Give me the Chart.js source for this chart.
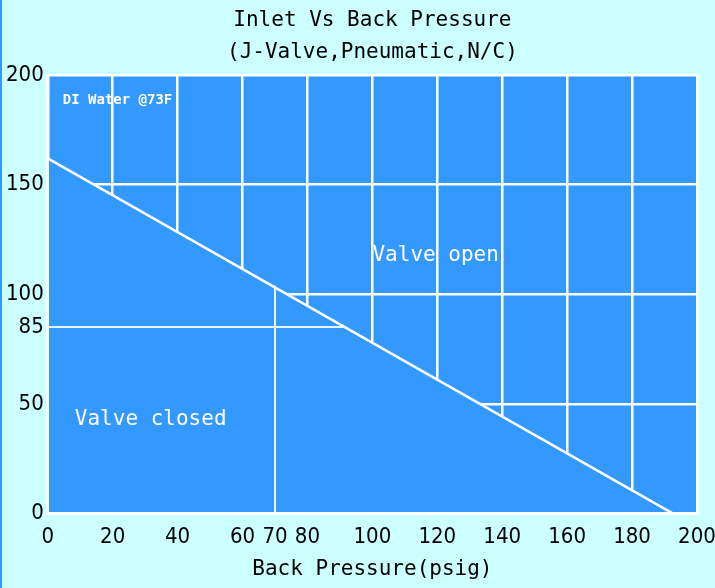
<!DOCTYPE html>
<html>
<head>
<meta charset="utf-8">
<script src="https://cdn.jsdelivr.net/npm/chart.js@4.4.1/dist/chart.umd.min.js"></script>
<style>
  html, body { margin: 0; padding: 0; background: #ccffff; }
  #wrap { width: 713px; height: 588px; border-left: 2px solid #3399ff; }
</style>
</head>
<body>
<div id="wrap"><canvas id="chart1" width="713" height="588"></canvas></div>
<script>
// Datos
const xTicks = [0, 20, 40, 60, 70, 80, 100, 120, 140, 160, 180, 200];
const yTicks = [0, 50, 85, 100, 150, 200];

// linea limite (abierta / cerrada)
const boundaryX = [0, 192.5];
const boundaryY = [162, 0];

// lineas de referencia 85 psig y 70 psig
const ref85X = [0, 92];
const ref85Y = [85, 85];
const ref70X = [70, 70];
const ref70Y = [0, 104];

const monoFont = '"DejaVu Sans Mono", monospace';
const tickFont = '"DejaVu Sans Condensed", "DejaVu Sans", sans-serif';
const plotBlue = '#3399ff';

function toPoints(xs, ys) {
    return xs.map((x, i) => ({ x: x, y: ys[i] }));
}

// Fondo azul del area del grafico y textos
const plotArea = {
    id: 'plotArea',
    beforeDraw(chart) {
        const { ctx, chartArea } = chart;
        ctx.save();
        ctx.fillStyle = plotBlue;
        ctx.fillRect(chartArea.left, chartArea.top, chartArea.right - chartArea.left, chartArea.bottom - chartArea.top);
        ctx.restore();
    },
    afterDatasetsDraw(chart) {
        const { ctx, scales } = chart;
        const notes = [
            { text: 'DI Water @73F', x: 4.6, y: 188.5, align: 'left', font: 'bold 14px ' + monoFont },
            { text: 'Valve open', x: 119.5, y: 117.5, align: 'center', font: '21px ' + monoFont },
            { text: 'Valve closed', x: 31.7, y: 43, align: 'center', font: '21px ' + monoFont }
        ];
        ctx.save();
        ctx.fillStyle = '#ffffff';
        ctx.textBaseline = 'middle';
        notes.forEach(n => {
            ctx.font = n.font;
            ctx.textAlign = n.align;
            ctx.fillText(n.text, scales.x.getPixelForValue(n.x), scales.y.getPixelForValue(n.y));
        });
        ctx.restore();
    }
};

const ctx = document.getElementById('chart1').getContext('2d');
new Chart(ctx, {
    type: 'scatter',
    data: {
        datasets: [
            {
                data: toPoints(ref85X, ref85Y),
                showLine: true,
                borderColor: '#e8f4ff',
                borderWidth: 2,
                pointRadius: 0,
                fill: false
            },
            {
                data: toPoints(ref70X, ref70Y),
                showLine: true,
                borderColor: '#e8f4ff',
                borderWidth: 2,
                pointRadius: 0,
                fill: false
            },
            {
                data: toPoints(boundaryX, boundaryY),
                showLine: true,
                borderColor: '#ffffff',
                borderWidth: 2.5,
                pointRadius: 0,
                backgroundColor: plotBlue,
                fill: 'origin'
            }
        ]
    },
    options: {
        responsive: false,
        animation: false,
        layout: { padding: { left: 0, right: 18, top: 0, bottom: 6 } },
        plugins: {
            legend: { display: false },
            tooltip: { enabled: false },
            title: {
                display: true,
                fullSize: false,
                text: ['Inlet Vs Back Pressure', '(J-Valve,Pneumatic,N/C)'],
                color: '#000000',
                font: { family: monoFont, size: 21, weight: 'normal', lineHeight: 1.5 },
                padding: { top: 5, bottom: 7 }
            }
        },
        scales: {
            x: {
                type: 'linear',
                min: 0,
                max: 200,
                afterBuildTicks: axis => { axis.ticks = xTicks.map(v => ({ value: v })); },
                // el margen derecho lo da layout.padding
                afterFit: axis => { axis.paddingRight = 0; axis.paddingLeft = 0; },
                grid: {
                    color: c => (c.tick && c.tick.value === 70) ? 'rgba(0,0,0,0)' : '#ffffff',
                    lineWidth: 2.5,
                    drawTicks: false
                },
                border: { display: true, color: '#ffffff', width: 3, z: 1 },
                ticks: {
                    color: '#000000',
                    font: { family: tickFont, size: 22 },
                    padding: 11,
                    maxRotation: 0,
                    autoSkip: false
                },
                title: {
                    display: true,
                    text: 'Back Pressure(psig)',
                    color: '#000000',
                    font: { family: monoFont, size: 21 },
                    padding: { top: -5, bottom: 0 }
                }
            },
            y: {
                type: 'linear',
                min: 0,
                max: 200,
                afterBuildTicks: axis => { axis.ticks = yTicks.map(v => ({ value: v })); },
                grid: {
                    color: c => (c.tick && c.tick.value === 85) ? 'rgba(0,0,0,0)' : '#ffffff',
                    lineWidth: 2.5,
                    drawTicks: false
                },
                border: { display: true, color: '#ffffff', width: 3, z: 1 },
                ticks: {
                    color: '#000000',
                    font: { family: tickFont, size: 22 },
                    padding: 4,
                    autoSkip: false
                }
            }
        }
    },
    plugins: [plotArea]
});
</script>
</body>
</html>
